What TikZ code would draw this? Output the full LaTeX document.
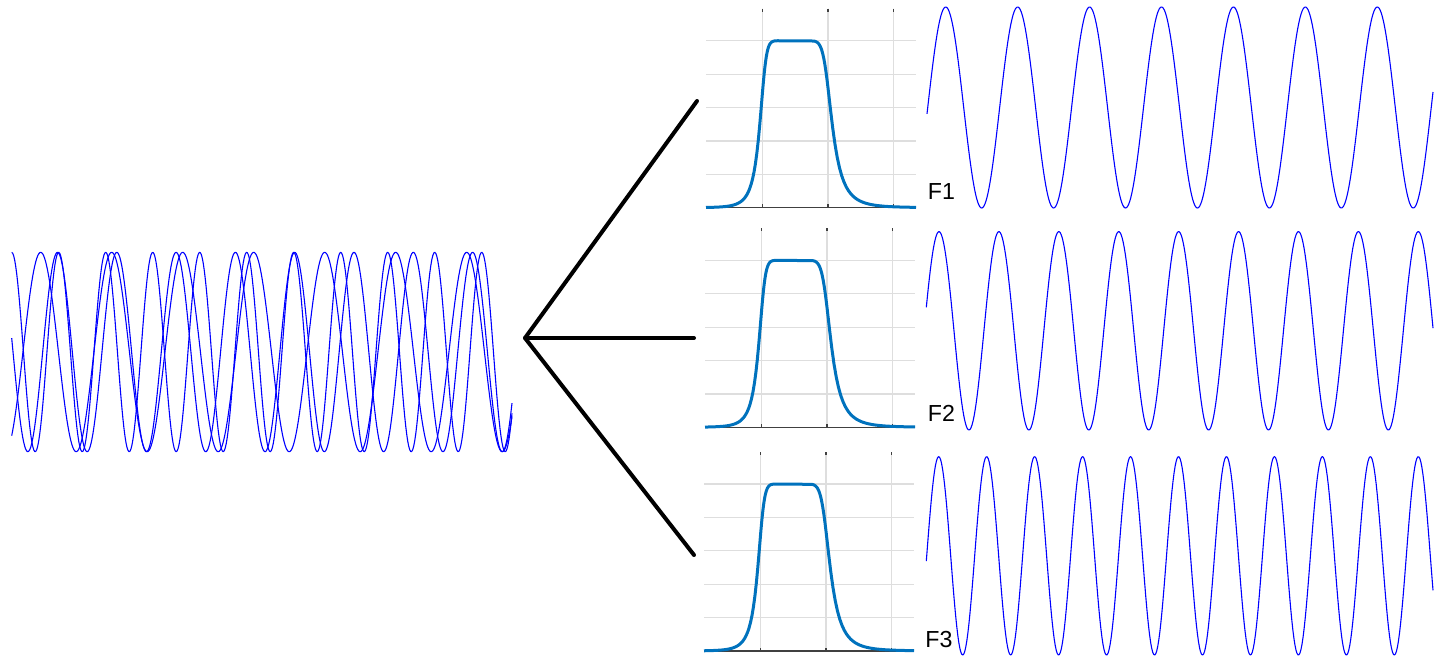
\documentclass[tikz,border=0pt]{standalone}
\usepackage{fontspec}
\setmainfont{Liberation Sans}
\definecolor{sigblue}{RGB}{0,0,255}
\definecolor{mblue}{RGB}{0,114,189}
\definecolor{gridc}{RGB}{222,222,222}
\definecolor{tickc}{RGB}{64,64,64}
\begin{document}
\begin{tikzpicture}[x=0.5pt,y=-0.5pt,
  sig/.style={sigblue, line width=0.55pt, line join=round},
  filt/.style={mblue, line width=1.5pt, line join=round},
  gridl/.style={gridc, line width=0.6pt},
  gridm/.style={gridc, line width=1.2pt},
  tickl/.style={tickc, line width=0.6pt},
  axisl/.style={tickc, line width=0.6pt},
  branch/.style={black, line width=2pt, line cap=round, line join=round},
  lab/.style={font=\fontsize{11.6}{13}\selectfont, inner sep=0pt, anchor=base west},
  declare function={hout(\v,\m)=pow(\v,\m)/sqrt(1+pow(\v,\m)^2);}
]
\useasboundingbox (0,0) rectangle (1449,666);

% combined input signal (three tones overlaid)
\draw[sig] plot[domain=11.7:512,samples=500] (\x,{352-99.7*cos((\x-11.7)*7.65957)});
\draw[sig] plot[domain=11.7:512,samples=500] (\x,{352-99.7*cos((\x-57.5)*6.07083)});
\draw[sig] plot[domain=11.7:512,samples=500] (\x,{352-99.7*cos((\x-40.7)*5.07042)});

% filter responses
\foreach \dx/\yb/\i in {0/207.7/1, -1/427.3/2, -2/651/3} {
  \pgfmathsetmacro\Lx{706+\dx}
  \pgfmathsetmacro\Rx{916+\dx}
  \pgfmathsetmacro\cx{795.7+\dx}
  \pgfmathsetmacro\ga{762.3+\dx}
  \pgfmathsetmacro\gb{828+\dx}
  \pgfmathsetmacro\gc{893.3+\dx}
  \foreach \k in {1,...,5}
    \draw[gridl] (\Lx,{\yb-33.4*\k}) -- (\Rx,{\yb-33.4*\k});
  \draw[gridl] (\ga,{\yb-199}) -- (\ga,\yb);
  \draw[gridm] (\gb,{\yb-199}) -- (\gb,\yb);
  \draw[gridl] (\gc,{\yb-199}) -- (\gc,\yb);
  \foreach \g in {\ga,\gb,\gc} {
    \draw[tickl] (\g,{\yb-199}) -- (\g,{\yb-196});
    \draw[tickl] (\g,\yb) -- (\g,{\yb-3.5});
  }
  \draw[axisl] (\Lx,\yb) -- (\Rx,\yb);
  \pgfmathsetmacro\aL{\cx-33}
  \pgfmathsetmacro\bL{\cx-18.15}
  \pgfmathsetmacro\bR{\cx+17.9}
  \pgfmathsetmacro\aR{\cx+32.5}
  \draw[filt] plot[domain=\Lx:\aL,samples=40] (\x,{\yb-167*hout(33/(\cx-\x),6.5)})
    -- plot[domain=\aL:\bL,samples=30] (\x,{\yb-167/sqrt(1+pow((\cx-\x)/33,13))})
    -- plot[domain=\bR:\aR,samples=30] (\x,{\yb-167/sqrt(1+pow((\x-\cx)/32.5,9.4))})
    -- plot[domain=\aR:\Rx,samples=40] (\x,{\yb-167*hout(32.5/(\x-\cx),4.7)});
  \coordinate (filt\i) at (\cx,{\yb-100});
}

% output tones
\draw[sig] plot[domain=927:1433,samples=500] (\x,{107.5-100.5*cos((\x-945.7)*5.00487)});
\draw[sig] plot[domain=926.3:1433,samples=500] (\x,{330.8-99.2*cos((\x-939)*6.00901)});
\draw[sig] plot[domain=926.3:1433,samples=500] (\x,{555.8-99.2*cos((\x-938.7)*7.50626)});

% branching connector
\coordinate (J) at (525,338);
\coordinate (E1) at (697,101);
\coordinate (E2) at (694,338);
\coordinate (E3) at (694,555);
\draw[branch] (E1) -- (J) -- (E3);
\draw[branch] (J) -- (E2);

% labels
\node[lab] (F1) at (927.5,199) {F1};
\node[lab] (F2) at (927.5,421.7) {F2};
\node[lab] (F3) at (925,647.7) {F3};
\end{tikzpicture}
\end{document}
